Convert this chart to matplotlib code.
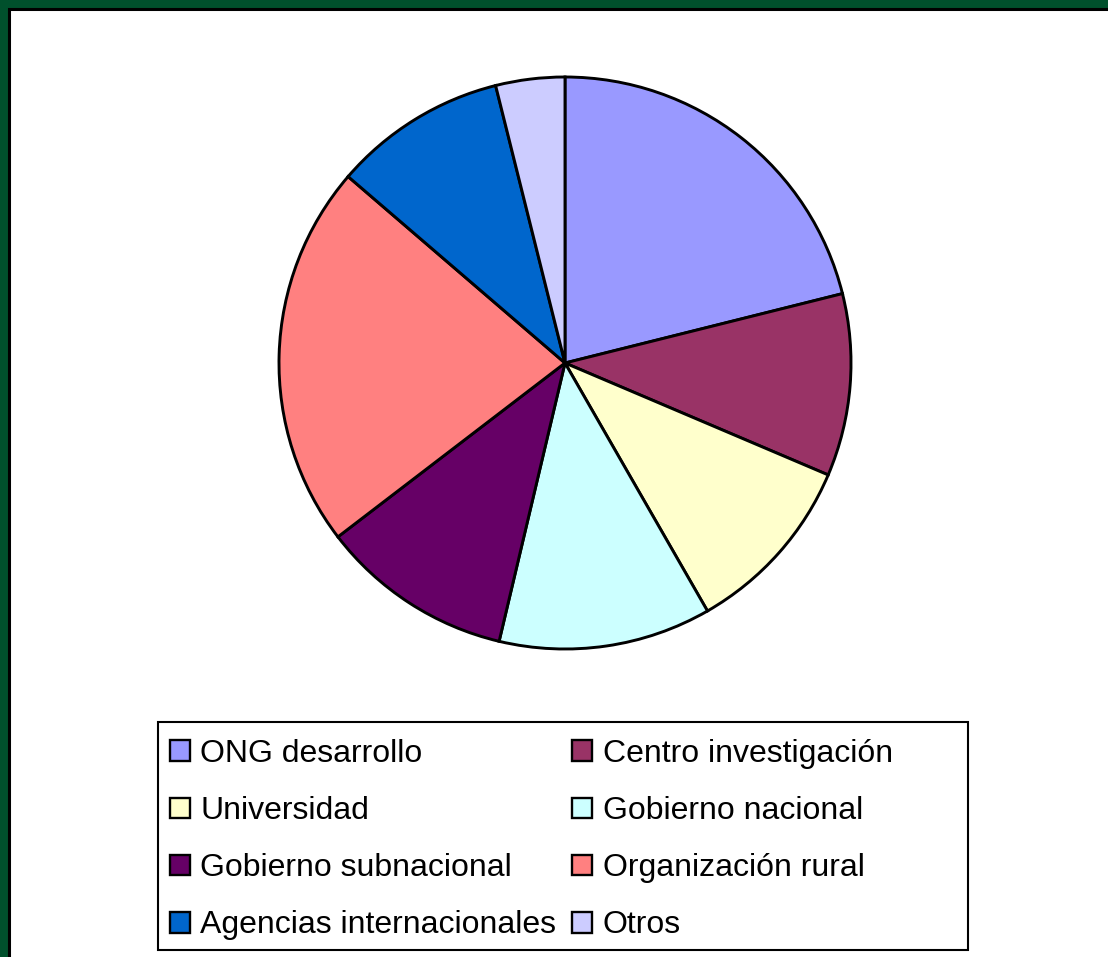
import matplotlib.pyplot as plt
import matplotlib.patches as mpatches

# datos (porcentajes aproximados)
categorias = ['ONG desarrollo', 'Centro investigación', 'Universidad',
              'Gobierno nacional', 'Gobierno subnacional', 'Organización rural',
              'Agencias internacionales', 'Otros']
valores = [21.1, 10.3, 10.3, 12.0, 10.9, 21.7, 9.8, 3.9]
colores = ['#9999FF', '#993366', '#FFFFCC', '#CCFFFF', '#660066',
           '#FF8080', '#0066CC', '#CCCCFF']

W, H = 1108, 957
plt.rcParams['font.family'] = ['Liberation Sans', 'DejaVu Sans']

fig = plt.figure(figsize=(W / 100, H / 100), dpi=100)
fig.patch.set_facecolor('#00502C')

# fondo blanco con borde negro (recortado a la derecha y abajo)
fondo = mpatches.Rectangle((8.5 / W, -0.1), 1.2, 1.1 - 9.5 / H,
                           transform=fig.transFigure, facecolor='white',
                           edgecolor='black', linewidth=2.2, zorder=-5)
fig.patches.append(fondo)

cx, cy, r = 565, 363, 286
ax = fig.add_axes([(cx - r) / W, (H - cy - r) / H, 2 * r / W, 2 * r / H])
wedges, _ = ax.pie(valores, colors=colores, startangle=90, counterclock=False,
                   radius=1, wedgeprops={'edgecolor': 'black', 'linewidth': 2.1})
ax.set_xlim(-1, 1)
ax.set_ylim(-1, 1)
ax.set_aspect('equal')
ax.axis('off')

# caja de la leyenda
caja = mpatches.Rectangle((158 / W, (H - 950) / H), 810 / W, 228 / H,
                          transform=fig.transFigure, facecolor='white',
                          edgecolor='black', linewidth=1.5, zorder=1)
fig.patches.append(caja)

# orden por filas (matplotlib llena por columnas)
orden = [0, 2, 4, 6, 1, 3, 5, 7]
leg = fig.legend([wedges[i] for i in orden], [categorias[i] for i in orden],
                 ncol=2, loc='upper left',
                 bbox_to_anchor=(170 / W, (H - 739) / H),
                 fontsize=23, frameon=False,
                 handlelength=0.62, handleheight=0.62,
                 handletextpad=0.33, labelspacing=0.85, borderpad=0,
                 borderaxespad=0, columnspacing=0.5)
for h in leg.legend_handles:
    h.set_linewidth(1.7)

fig.savefig('out.png', dpi=100, facecolor=fig.get_facecolor())
